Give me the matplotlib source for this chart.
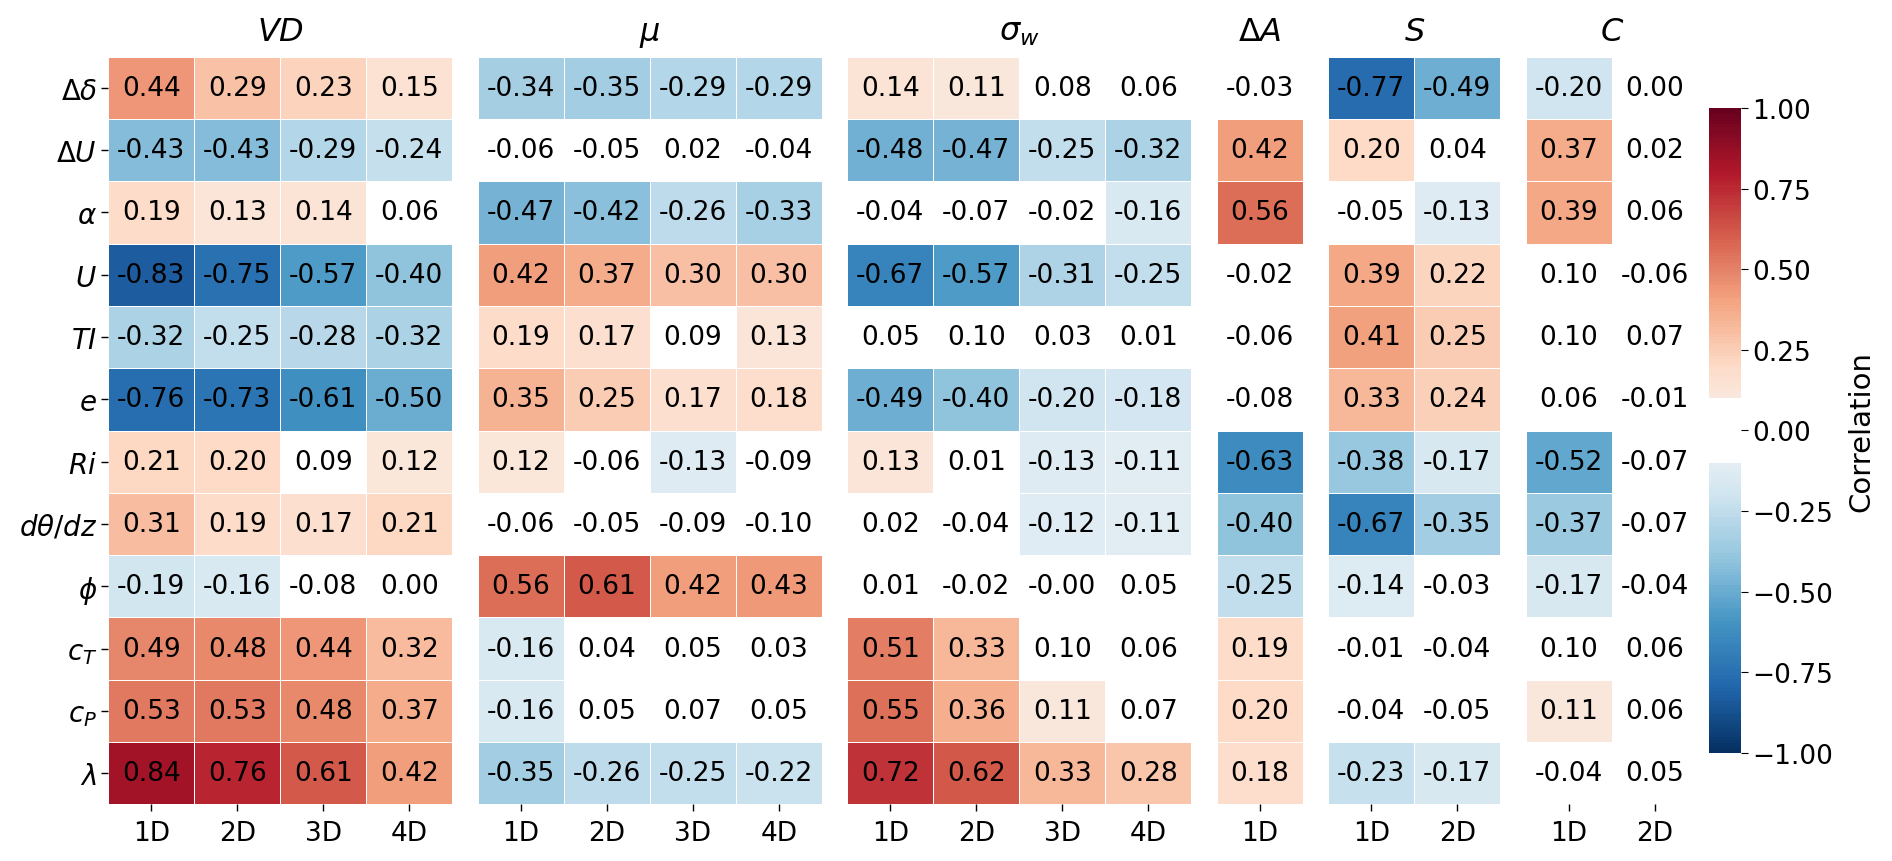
import numpy as np
import matplotlib
matplotlib.use("Agg")
import matplotlib.pyplot as plt
from matplotlib.colors import ListedColormap, Normalize
from matplotlib.cm import ScalarMappable
from matplotlib.ticker import FuncFormatter

row_labels = [r"$\Delta\delta$", r"$\Delta U$", r"$\alpha$", r"$U$", r"$TI$", r"$e$",
              r"$Ri$", r"$d\theta/dz$", r"$\phi$", r"$c_T$", r"$c_P$", r"$\lambda$"]

group_titles = [r"$VD$", r"$\mu$", r"$\sigma_w$", r"$\Delta A$", r"$S$", r"$C$"]
group_cols = [["1D", "2D", "3D", "4D"], ["1D", "2D", "3D", "4D"], ["1D", "2D", "3D", "4D"],
              ["1D"], ["1D", "2D"], ["1D", "2D"]]

vd = [[0.44, 0.29, 0.23, 0.15],
      [-0.43, -0.43, -0.29, -0.24],
      [0.19, 0.13, 0.14, 0.06],
      [-0.83, -0.75, -0.57, -0.40],
      [-0.32, -0.25, -0.28, -0.32],
      [-0.76, -0.73, -0.61, -0.50],
      [0.21, 0.20, 0.09, 0.12],
      [0.31, 0.19, 0.17, 0.21],
      [-0.19, -0.16, -0.08, 0.00],
      [0.49, 0.48, 0.44, 0.32],
      [0.53, 0.53, 0.48, 0.37],
      [0.84, 0.76, 0.61, 0.42]]

mu = [[-0.34, -0.35, -0.29, -0.29],
      [-0.06, -0.05, 0.02, -0.04],
      [-0.47, -0.42, -0.26, -0.33],
      [0.42, 0.37, 0.30, 0.30],
      [0.19, 0.17, 0.09, 0.13],
      [0.35, 0.25, 0.17, 0.18],
      [0.12, -0.06, -0.13, -0.09],
      [-0.06, -0.05, -0.09, -0.10],
      [0.56, 0.61, 0.42, 0.43],
      [-0.16, 0.04, 0.05, 0.03],
      [-0.16, 0.05, 0.07, 0.05],
      [-0.35, -0.26, -0.25, -0.22]]

sigma_w = [[0.14, 0.11, 0.08, 0.06],
           [-0.48, -0.47, -0.25, -0.32],
           [-0.04, -0.07, -0.02, -0.16],
           [-0.67, -0.57, -0.31, -0.25],
           [0.05, 0.10, 0.03, 0.01],
           [-0.49, -0.40, -0.20, -0.18],
           [0.13, 0.01, -0.13, -0.11],
           [0.02, -0.04, -0.12, -0.11],
           [0.01, -0.02, -0.001, 0.05],
           [0.51, 0.33, 0.10, 0.06],
           [0.55, 0.36, 0.11, 0.07],
           [0.72, 0.62, 0.33, 0.28]]

delta_a = [[-0.03], [0.42], [0.56], [-0.02], [-0.06], [-0.08],
           [-0.63], [-0.40], [-0.25], [0.19], [0.20], [0.18]]

s_vals = [[-0.77, -0.49],
          [0.20, 0.04],
          [-0.05, -0.13],
          [0.39, 0.22],
          [0.41, 0.25],
          [0.33, 0.24],
          [-0.38, -0.17],
          [-0.67, -0.35],
          [-0.14, -0.03],
          [-0.01, -0.04],
          [-0.04, -0.05],
          [-0.23, -0.17]]

c_vals = [[-0.20, 0.00],
          [0.37, 0.02],
          [0.39, 0.06],
          [0.10, -0.06],
          [0.10, 0.07],
          [0.06, -0.01],
          [-0.52, -0.07],
          [-0.37, -0.07],
          [-0.17, -0.04],
          [0.10, 0.06],
          [0.11, 0.06],
          [-0.04, 0.05]]

groups = [vd, mu, sigma_w, delta_a, s_vals, c_vals]

W, H = 1892, 862
fig = plt.figure(figsize=(W / 100, H / 100), dpi=100)

# colorbar cmap: white band between -0.1 and 0.1
base = plt.get_cmap("RdBu_r")
levels = -1 + 0.005 + 0.01 * np.arange(200)
colors = base((levels + 1) / 2)
colors[np.abs(levels) < 0.1] = [1, 1, 1, 1]
band_cmap = ListedColormap(colors)
norm = Normalize(vmin=-1, vmax=1)

col_w, gap = 86.0, 25.5
left = 108.3
top_px, bot_px = 57.7, 805.3

for k, data in enumerate(groups):
    vals = np.array(data, dtype=float)
    nrow, ncol = vals.shape
    ax = fig.add_axes([left / W, (H - bot_px) / H, ncol * col_w / W, (bot_px - top_px) / H])
    left += ncol * col_w + gap
    masked = np.ma.masked_where(np.abs(vals) < 0.105, vals)
    ax.pcolormesh(np.arange(ncol + 1), np.arange(nrow + 1), masked, cmap="RdBu_r", norm=norm,
                  edgecolors="white", linewidth=0.6)
    for i in range(nrow):
        for j in range(ncol):
            ax.text(j + 0.5, i + 0.5, f"{vals[i, j]:.2f}", ha="center", va="center",
                    fontsize=19, color="black")
    ax.set_xlim(0, ncol)
    ax.set_ylim(nrow, 0)
    for sp in ax.spines.values():
        sp.set_visible(False)
    ax.set_xticks(np.arange(ncol) + 0.5, group_cols[k], fontsize=19)
    ax.tick_params(axis="x", length=5, width=1, pad=6)
    if k == 0:
        ax.set_yticks(np.arange(nrow) + 0.5, row_labels, fontsize=20)
        ax.tick_params(axis="y", length=5, width=1, pad=3)
    else:
        ax.set_yticks([])
    ax.set_title(group_titles[k], fontsize=23, pad=12)

cax = fig.add_axes([1708.5 / W, (H - 753.7) / H, 32 / W, (753.7 - 109) / H])
cb = fig.colorbar(ScalarMappable(norm=norm, cmap=band_cmap), cax=cax)
cb.outline.set_visible(False)
cb.set_ticks([1.0, 0.75, 0.5, 0.25, 0.0, -0.25, -0.5, -0.75, -1.0])
cb.ax.yaxis.set_major_formatter(FuncFormatter(lambda v, p: f"{v:.2f}".replace("-", "\u2212")))
cb.ax.tick_params(labelsize=19, length=5)
cb.set_label("Correlation", fontsize=21, labelpad=10)

fig.savefig("out.png", dpi=100)
